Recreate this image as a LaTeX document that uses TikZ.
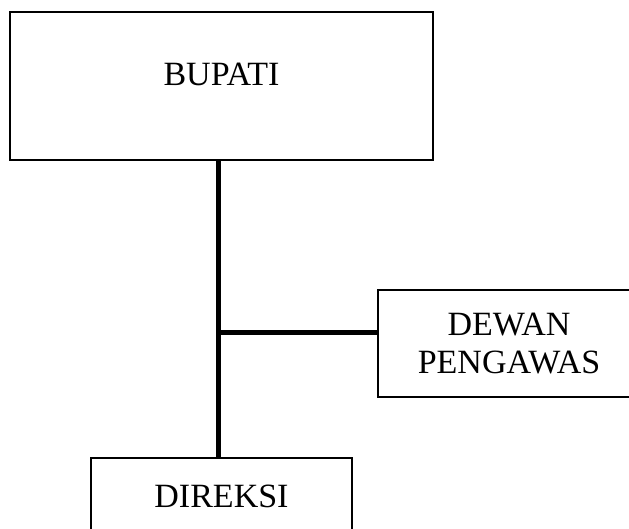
\documentclass[tikz,border=0pt]{standalone}
\usepackage{fontspec}
\setmainfont{Liberation Serif}
\begin{document}
\begin{tikzpicture}[x=1pt,y=-1pt,
  box/.style={draw=black, line width=1.8pt, fill=white, inner sep=0pt, align=center,
    font=\fontsize{34}{38}\selectfont},
  conn/.style={draw=black, line width=5pt}]
\useasboundingbox (0,0) rectangle (629,529);
\clip (0,0) rectangle (629,529);
\fill[white] (0,0) rectangle (629,529);
\node[box, minimum width=423pt, minimum height=148pt, text height=22.5pt, text depth=22.5pt]
  (bupati) at (221.5,86) {BUPATI};
\node[box, minimum width=262pt, minimum height=107pt]
  (dewan) at (509,343.5) {DEWAN\\PENGAWAS};
\node[box, minimum width=261pt, minimum height=76pt, text height=22.5pt, text depth=0pt]
  (direksi) at (221.5,496) {DIREKSI};
\coordinate (j) at (218,332);
\draw[conn] (j |- bupati.south) -- (j |- direksi.north);
\draw[conn] (j) -- (j -| dewan.west);
\end{tikzpicture}
\end{document}
